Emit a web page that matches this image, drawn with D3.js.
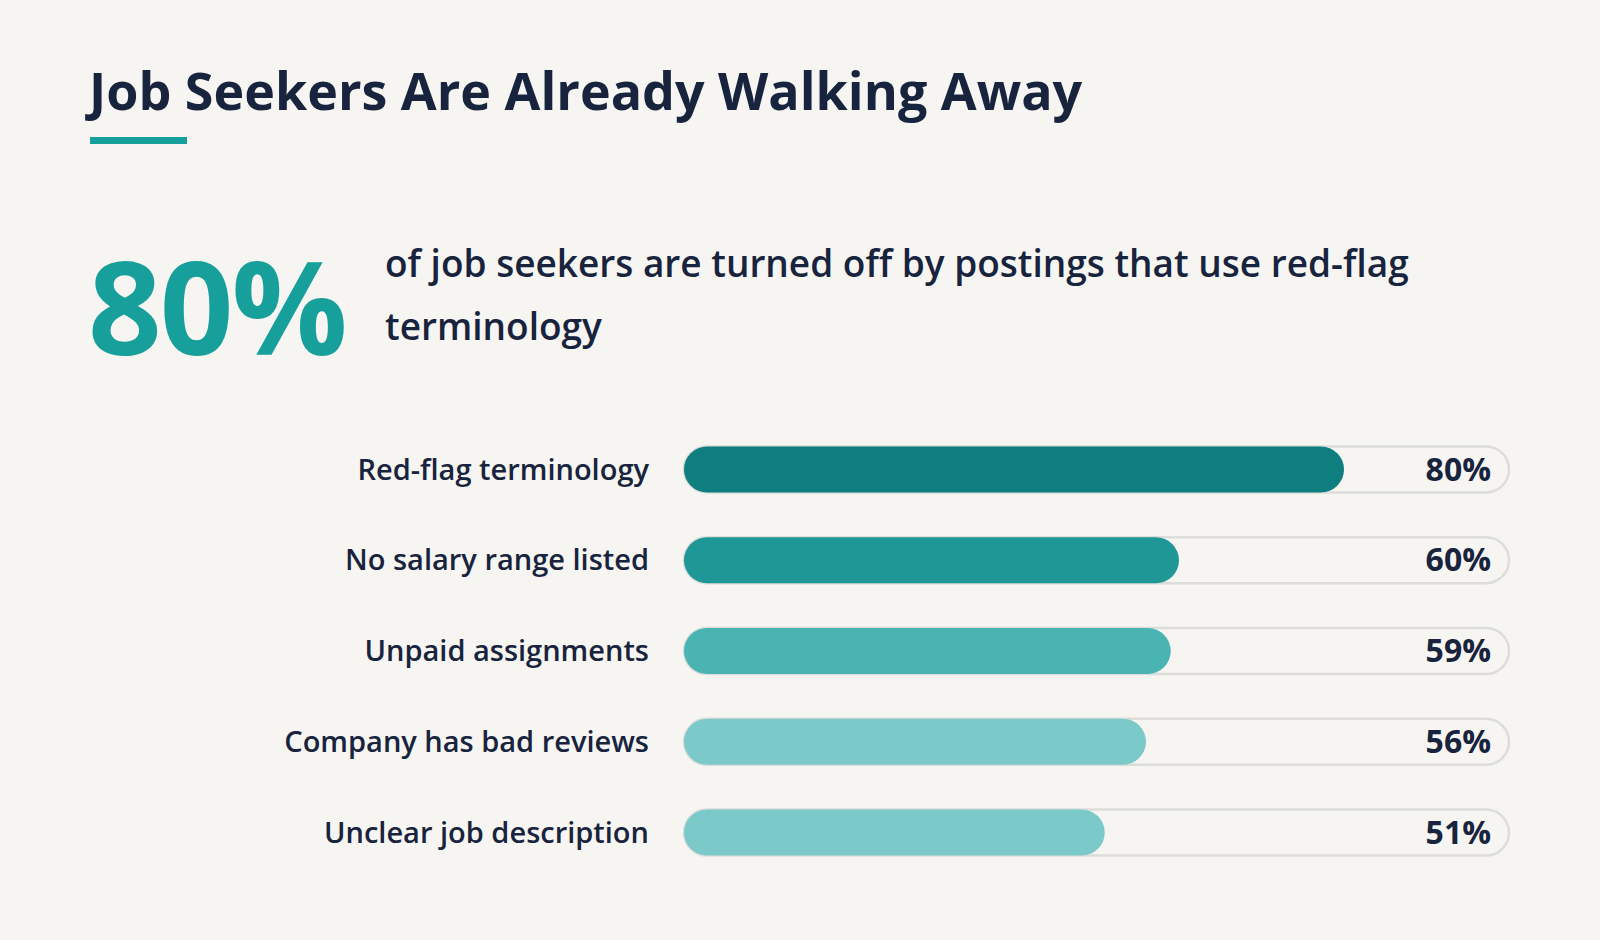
<!DOCTYPE html>
<html>
<head>
<meta charset="utf-8">
<script src="https://cdn.jsdelivr.net/npm/d3@7"></script>
<style>
  html, body { margin: 0; padding: 0; background: #f6f5f1; }
  svg { display: block; font-family: "Open Sans", "Noto Sans", sans-serif; }
</style>
</head>
<body>
<div id="chart"></div>
<script>
// data
let categories = ['Red-flag terminology', 'No salary range listed', 'Unpaid assignments', 'Company has bad reviews', 'Unclear job description'];
let values = [80, 60, 59, 56, 51];
let barColors = ['#0e7e7e', '#1f9797', '#4ab4b3', '#7bc9c9', '#7bc9c9'];
let titleText = 'Job Seekers Are Already Walking Away';
let headlineValue = '80%';
let headlineLines = ['of job seekers are turned off by postings that use red-flag', 'terminology'];

let w = 1600, h = 940;
let ink = '#18233d';
let teal = '#17a09b';

let svg = d3.select('#chart').append('svg')
    .attr('width', w).attr('height', h)
    .attr('viewBox', `0 0 ${w} ${h}`);

svg.append('rect').attr('width', w).attr('height', h).attr('fill', '#f6f5f1');

// title + accent rule
svg.append('text')
    .attr('x', 89).attr('y', 110)
    .attr('font-size', 52).attr('font-weight', 700)
    .attr('fill', ink)
    .text(titleText);
svg.append('rect')
    .attr('x', 90).attr('y', 137)
    .attr('width', 97).attr('height', 7)
    .attr('fill', teal);

// big stat
svg.append('text')
    .attr('x', 88).attr('y', 355)
    .attr('font-size', 129).attr('font-weight', 700)
    .attr('letter-spacing', -2)
    .attr('fill', teal)
    .text(headlineValue);

svg.selectAll('.headline-line').data(headlineLines).enter()
    .append('text')
    .attr('class', 'headline-line')
    .attr('x', 385)
    .attr('y', (d, i) => 277 + i * 63)
    .attr('font-size', 37).attr('font-weight', 600)
    .attr('fill', ink)
    .text(d => d);

// bars
let x = d3.scaleLinear().domain([0, 100]).range([684, 1509]);
let y = d3.scaleBand().domain(categories).range([424, 878]).paddingInner(0.49).paddingOuter(0.245);
let bh = 46;

let rows = svg.selectAll('.row').data(categories).enter()
    .append('g').attr('class', 'row')
    .attr('transform', d => `translate(0,${y(d) + y.bandwidth() / 2})`);

// track
rows.append('rect')
    .attr('x', x(0)).attr('y', -bh / 2)
    .attr('width', x(100) - x(0)).attr('height', bh)
    .attr('rx', bh / 2)
    .attr('fill', '#f6f5f1')
    .attr('stroke', '#dcdcda').attr('stroke-width', 2.5);

// value bar
rows.append('rect')
    .attr('x', x(0)).attr('y', -bh / 2)
    .attr('width', (d, i) => x(values[i]) - x(0)).attr('height', bh)
    .attr('rx', bh / 2)
    .attr('fill', (d, i) => barColors[i]);

// category labels
rows.append('text')
    .attr('x', 649).attr('y', 0)
    .attr('dy', '0.35em')
    .attr('text-anchor', 'end')
    .attr('font-size', 29).attr('font-weight', 600)
    .attr('fill', ink)
    .text(d => d);

// value labels
rows.append('text')
    .attr('x', 1491).attr('y', 0)
    .attr('dy', '0.35em')
    .attr('text-anchor', 'end')
    .attr('font-size', 32).attr('font-weight', 700)
    .attr('fill', ink)
    .text((d, i) => values[i] + '%');
</script>
</body>
</html>
